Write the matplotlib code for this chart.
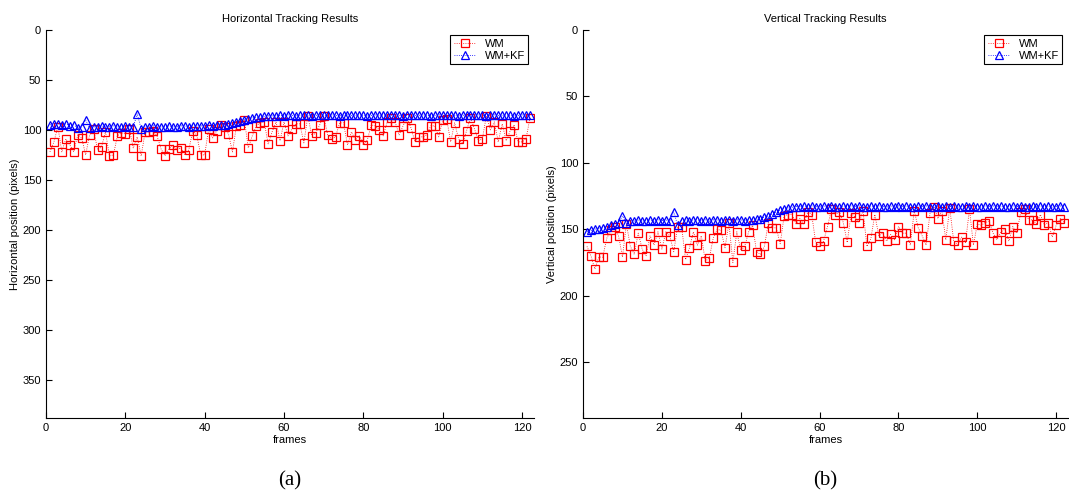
import matplotlib

matplotlib.use("Agg")
import matplotlib.pyplot as plt

plt.rcParams["font.family"] = ["Liberation Sans", "DejaVu Sans"]

frames = list(range(1, 123))

# Horizontal tracking (pixels)
h_wm = [122, 112, 97, 122, 109, 115, 122, 105, 108, 125,
        105, 99, 120, 117, 102, 126, 125, 106, 103, 104,
        99, 118, 107, 126, 102, 102, 101, 106, 119, 126,
        119, 115, 120, 118, 125, 120, 101, 105, 125, 125,
        99, 108, 101, 95, 97, 104, 122, 96, 95, 90,
        118, 106, 96, 93, 92, 114, 102, 92, 111, 92,
        106, 99, 94, 94, 113, 86, 106, 103, 95, 86,
        105, 109, 107, 93, 93, 115, 102, 110, 106, 115,
        110, 95, 96, 100, 106, 92, 88, 92, 105, 96,
        88, 98, 112, 107, 107, 105, 96, 96, 107, 90,
        89, 112, 93, 109, 114, 101, 88, 99, 111, 109,
        86, 100, 92, 112, 94, 111, 101, 95, 112, 112,
        109, 88]
h_kf = [95, 94, 94, 95, 94, 96, 95, 98, 97, 90,
        98, 97, 97, 96, 97, 97, 96, 97, 97, 96,
        97, 97, 84, 99, 97, 97, 96, 97, 97, 97,
        96, 97, 97, 96, 96, 97, 96, 96, 96, 96,
        95, 96, 95, 95, 95, 94, 93, 92, 91, 90,
        89, 88, 87.5, 87, 86.5, 86, 86, 86, 85.5, 86,
        85, 85.5, 86, 85.5, 85, 85.5, 86, 85.5, 85, 85.5,
        85.5, 85, 85.5, 86, 85.5, 85, 85.5, 85.5, 85, 85.5,
        86, 85.5, 85, 85.5, 85, 85.5, 85.5, 85, 85.5, 86,
        85.5, 85, 85.5, 85.5, 85, 85.5, 86, 85.5, 85, 85.5,
        85.5, 85, 85.5, 86, 85.5, 85, 85.5, 85.5, 85, 85.5,
        86, 85.5, 85, 85.5, 85.5, 85, 85.5, 86, 85.5, 85,
        85.5, 85.5]

# Vertical tracking (pixels)
v_wm = [163, 170, 180, 171, 171, 157, 151, 148, 155, 171,
        146, 163, 169, 153, 165, 170, 155, 162, 152, 165,
        152, 155, 167, 148, 148, 173, 164, 152, 162, 155,
        174, 172, 157, 150, 151, 164, 145.5, 175, 152, 166,
        163, 152, 147, 167, 169, 163, 145, 149, 149, 161,
        140, 139, 139, 146, 142, 146, 137, 139, 160, 163,
        159, 148, 135, 139, 137, 145, 160, 138, 141, 145,
        136, 163, 157, 139, 155, 153, 159, 154, 158, 148,
        153, 153, 162, 136, 149, 155, 162, 138, 133, 142,
        136, 158, 134, 159, 162, 156, 160, 135, 162, 146,
        147, 145, 144, 153, 158, 152, 150, 159, 148, 153,
        137, 135, 143, 143, 146, 139, 147, 145, 156, 147,
        142, 145]
v_kf = [152, 151, 150, 149.5, 149, 148, 147, 146, 145, 140,
        145.5, 144, 144, 143, 144, 143.5, 143, 144, 143, 143.5,
        143, 144, 137, 147, 143.5, 143, 144, 143, 143, 143.5,
        143, 144, 143, 143, 143.5, 143, 143, 144, 143, 143,
        143.5, 143, 143, 142.5, 142, 141, 140, 138.5, 137, 135.5,
        134.5, 134, 133.5, 133, 133, 132.5, 133, 132.5, 133, 133.5,
        132.5, 133, 132.5, 133, 133.5, 132.5, 133, 132.5, 133, 132.5,
        133.5, 133, 132.5, 133, 132.5, 133, 133.5, 132.5, 133, 132.5,
        133, 132.5, 133.5, 133, 132.5, 133, 132.5, 133, 133.5, 132.5,
        133, 132.5, 133, 132.5, 133.5, 133, 132.5, 133, 132.5, 133,
        133.5, 132.5, 133, 132.5, 133, 132.5, 133.5, 133, 132.5, 133,
        132.5, 133, 133.5, 132.5, 133, 132.5, 133, 132.5, 133.5, 133,
        132.5, 133]

panels = [
    ("Horizontal Tracking Results", "Horizontal position (pixels)", h_wm, h_kf,
     388, [0, 50, 100, 150, 200, 250, 300, 350], "(a)"),
    ("Vertical Tracking Results", "Vertical position (pixels)", v_wm, v_kf,
     292, [0, 50, 100, 150, 200, 250], "(b)"),
]
rects = [[0.043, 0.161, 0.4565, 0.779], [0.5454, 0.161, 0.4537, 0.779]]

fig = plt.figure(figsize=(10.69, 4.98), dpi=100)
for rect, (title, ylabel, wm, kf, ymax, yt, cap) in zip(rects, panels):
    ax = fig.add_axes(rect)
    ax.plot(frames, wm, linestyle=":", color="red", linewidth=0.6, marker="s",
            markersize=5.5, markerfacecolor="none", markeredgecolor="red",
            markeredgewidth=0.9, label="WM")
    ax.plot(frames, kf, linestyle=":", color="blue", linewidth=0.6, marker="^",
            markersize=6, markerfacecolor="none", markeredgecolor="blue",
            markeredgewidth=0.9, label="WM+KF")
    ax.set_xlim(0, 123)
    ax.set_ylim(ymax, 0)
    ax.set_xticks([0, 20, 40, 60, 80, 100, 120])
    ax.set_yticks(yt)
    ax.tick_params(direction="in", labelsize=8, length=4, width=0.8)
    ax.spines["top"].set_visible(False)
    ax.spines["right"].set_visible(False)
    ax.set_title(title, fontsize=8, pad=6)
    ax.set_xlabel("frames", fontsize=8, labelpad=2)
    ax.set_ylabel(ylabel, fontsize=8, labelpad=2)
    leg = ax.legend(loc="upper right", fontsize=8, fancybox=False, framealpha=1,
                    edgecolor="black", handlelength=2.0, borderpad=0.3,
                    labelspacing=0.2, handletextpad=0.8)
    leg.get_frame().set_linewidth(0.8)
    fig.text(rect[0] + rect[2] / 2, 0.035, cap, ha="center", va="center",
             fontsize=15, family=["Liberation Serif", "DejaVu Serif"])

fig.savefig("out.png", dpi=100)
